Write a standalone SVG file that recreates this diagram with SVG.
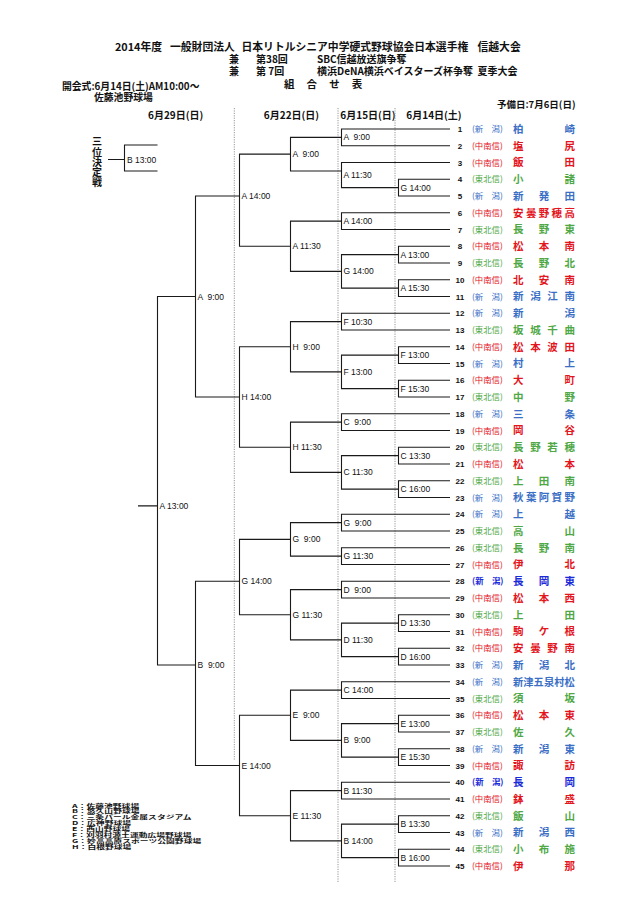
<svg xmlns="http://www.w3.org/2000/svg" width="640" height="904" viewBox="0 0 640 904">
<style>
.ln{fill:none;stroke:#1a1a1a;stroke-width:1.1}
.dash{fill:none;stroke:#8a8a8a;stroke-width:0.9;stroke-dasharray:1.2 1.2}
.ml{font-family:"Liberation Sans",Arial,sans-serif;font-size:8.5px;fill:#111}
.num{font-family:"Liberation Sans",Arial,sans-serif;font-weight:bold;font-size:8px;text-anchor:middle;fill:#111}
.reg{font-family:"Noto Sans CJK JP",sans-serif;font-size:8.4px}
.nm{font-family:"Noto Sans CJK JP",sans-serif;font-size:10.5px;font-weight:bold}
.nm6{font-size:10.2px}
.jp{font-family:"Noto Sans CJK JP",sans-serif;font-weight:bold;fill:#111}
.vt{writing-mode:vertical-rl;letter-spacing:0.3px}
.b{fill:#3b6fc6}.r{fill:#e3151d}.g{fill:#4fa845}.bd{fill:#1b2bd8}
</style>

<g id="header">
<text class="jp" y="51" font-size="10.8"><tspan x="115">2014年度 </tspan><tspan x="170">一般財団法人 </tspan><tspan x="241.5">日本リトルシニア中学硬式野球協会日本選手権 </tspan><tspan x="477.5">信越大会</tspan></text>
<text class="jp" y="63" font-size="10"><tspan x="229">兼 </tspan><tspan x="256">第38回 </tspan><tspan x="317">SBC信越放送旗争奪</tspan></text>
<text class="jp" y="75" font-size="10"><tspan x="229">兼 </tspan><tspan x="256">第 7回 </tspan><tspan x="317">横浜DeNA横浜ベイスターズ杯争奪 </tspan><tspan x="477.5">夏季大会</tspan></text>
<text class="jp" x="284" y="88" font-size="10.5" letter-spacing="0.8">組　合　せ　表</text>
<text class="jp" x="62" y="89.5" font-size="9.8">開会式:6月14日(土)AM10:00～</text>
<text class="jp" x="94" y="100.5" font-size="9.8">佐藤池野球場</text>
<text class="jp" x="497" y="107.5" font-size="9.5">予備日:7月6日(日)</text>
<g class="jp" font-size="10" text-anchor="middle">
<text x="175.7" y="118.5">6月29日(日)</text>
<text x="291.5" y="118.5">6月22日(日)</text>
<text x="368" y="118.5">6月15日(日)</text>
<text x="434" y="118.5">6月14日(土)</text>
</g>
</g>

<g id="grid">
<path class="dash" d="M234.3 108V760M338 108V882M395 108V882"/>
</g>

<g id="connectors">
<path class="ln" d="M450 179.25H398.5V196H450M450 246.25H398.5V263H450M450 279.75H398.5V296.5H450M450 346.75H398.5V363.5H450M450 380.25H398.5V397H450M450 447.25H398.5V464H450M450 480.75H398.5V497.5H450M450 614.75H398.5V631.5H450M450 648.25H398.5V665H450M450 715.25H398.5V732H450M450 748.75H398.5V765.5H450M450 815.75H398.5V832.5H450M450 849.25H398.5V866H450"/>
<path class="ln" d="M450 129H341.5V145.75H450M450 162.5H341.5V187.625H398.5M450 212.75H341.5V229.5H450M398.5 254.625H341.5V288.125H398.5M450 313.25H341.5V330H450M398.5 355.125H341.5V388.625H398.5M450 413.75H341.5V430.5H450M398.5 455.625H341.5V489.125H398.5M450 514.25H341.5V531H450M450 547.75H341.5V564.5H450M450 581.25H341.5V598H450M398.5 623.125H341.5V656.625H398.5M450 681.75H341.5V698.5H450M398.5 723.625H341.5V757.125H398.5M450 782.25H341.5V799H450M398.5 824.125H341.5V857.625H398.5"/>
<path class="ln" d="M341.5 137.375H290.5V171H341.5M341.5 221.125H290.5V271.375H341.5M341.5 321.625H290.5V371.875H341.5M341.5 422.125H290.5V472.375H341.5M341.5 522.625H290.5V556.125H341.5M341.5 589.625H290.5V639.875H341.5M341.5 690.125H290.5V740.375H341.5M341.5 790.625H290.5V840.875H341.5"/>
<path class="ln" d="M290.5 154.125H239.5V246.25H290.5M290.5 346.75H239.5V447.25H290.5M290.5 539.375H239.5V614.75H290.5M290.5 715.25H239.5V815.75H290.5"/>
<path class="ln" d="M239.5 196H195.5V397H239.5M239.5 581.25H195.5V765.5H239.5"/>
<path class="ln" d="M195.5 296.5H157.5V665H195.5M138 505.875H157.5"/>
<path class="ln" d="M157.5 145H124.5V171H157.5M108 159.5H124.5"/>
</g>

<g id="third-place">
<text class="jp vt" font-size="10" x="97" y="136.5">三位決定戦</text>
<text class="ml" x="127" y="162.5">B 13:00</text>
</g>

<g id="matches-r1" class="ml">
<g id="r1-g1400"><text x="400.5" y="190.6">G 14:00</text></g>
<g id="r1-a1300"><text x="400.5" y="257.6">A 13:00</text></g>
<g id="r1-a1530"><text x="400.5" y="291.1">A 15:30</text></g>
<g id="r1-f1300"><text x="400.5" y="358.1">F 13:00</text></g>
<g id="r1-f1530"><text x="400.5" y="391.6">F 15:30</text></g>
<g id="r1-c1330"><text x="400.5" y="458.6">C 13:30</text></g>
<g id="r1-c1600"><text x="400.5" y="492.1">C 16:00</text></g>
<g id="r1-d1330"><text x="400.5" y="626.1">D 13:30</text></g>
<g id="r1-d1600"><text x="400.5" y="659.6">D 16:00</text></g>
<g id="r1-e1300"><text x="400.5" y="726.6">E 13:00</text></g>
<g id="r1-e1530"><text x="400.5" y="760.1">E 15:30</text></g>
<g id="r1-b1330"><text x="400.5" y="827.1">B 13:30</text></g>
<g id="r1-b1600"><text x="400.5" y="860.6">B 16:00</text></g>
</g>

<g id="matches-r2" class="ml">
<g id="r2-a900"><text xml:space="preserve" x="343.5" y="140.4">A  9:00</text></g>
<g id="r2-a1130"><text x="343.5" y="178">A 11:30</text></g>
<g id="r2-a1400"><text x="343.5" y="224.1">A 14:00</text></g>
<g id="r2-g1400"><text x="343.5" y="274.4">G 14:00</text></g>
<g id="r2-f1030"><text x="343.5" y="324.6">F 10:30</text></g>
<g id="r2-f1300"><text x="343.5" y="374.9">F 13:00</text></g>
<g id="r2-c900"><text xml:space="preserve" x="343.5" y="425.1">C  9:00</text></g>
<g id="r2-c1130"><text x="343.5" y="475.4">C 11:30</text></g>
<g id="r2-g900"><text xml:space="preserve" x="343.5" y="525.6">G  9:00</text></g>
<g id="r2-g1130"><text x="343.5" y="559.1">G 11:30</text></g>
<g id="r2-d900"><text xml:space="preserve" x="343.5" y="592.6">D  9:00</text></g>
<g id="r2-d1130"><text x="343.5" y="642.9">D 11:30</text></g>
<g id="r2-c1400"><text x="343.5" y="693.1">C 14:00</text></g>
<g id="r2-b900"><text xml:space="preserve" x="343.5" y="743.4">B  9:00</text></g>
<g id="r2-b1130"><text x="343.5" y="793.6">B 11:30</text></g>
<g id="r2-b1400"><text x="343.5" y="843.9">B 14:00</text></g>
</g>

<g id="matches-r3" class="ml">
<g id="r3-a900"><text xml:space="preserve" x="292.5" y="157.1">A  9:00</text></g>
<g id="r3-a1130"><text x="292.5" y="249.2">A 11:30</text></g>
<g id="r3-h900"><text xml:space="preserve" x="292.5" y="349.7">H  9:00</text></g>
<g id="r3-h1130"><text x="292.5" y="450.2">H 11:30</text></g>
<g id="r3-g900"><text xml:space="preserve" x="292.5" y="542.4">G  9:00</text></g>
<g id="r3-g1130"><text x="292.5" y="617.7">G 11:30</text></g>
<g id="r3-e900"><text xml:space="preserve" x="292.5" y="718.2">E  9:00</text></g>
<g id="r3-e1130"><text x="292.5" y="818.7">E 11:30</text></g>
</g>

<g id="matches-qf" class="ml">
<g id="qf-a1400"><text x="241.5" y="199">A 14:00</text></g>
<g id="qf-h1400"><text x="241.5" y="400">H 14:00</text></g>
<g id="qf-g1400"><text x="241.5" y="584.2">G 14:00</text></g>
<g id="qf-e1400"><text x="241.5" y="768.5">E 14:00</text></g>
</g>

<g id="matches-sf" class="ml">
<g id="sf-a900"><text xml:space="preserve" x="197.5" y="299.5">A  9:00</text></g>
<g id="sf-b900"><text xml:space="preserve" x="197.5" y="668">B  9:00</text></g>
</g>
<g id="final" class="ml"><text x="159.5" y="508.9">A 13:00</text></g>

<g id="teams">
<g id="team-1"><text class="num" x="460" y="132">1</text><text class="reg b" x="472" y="132">(新　潟)</text><text class="nm b" x="513 564.5" y="132.8">柏崎</text></g>
<g id="team-2"><text class="num" x="460" y="148.75">2</text><text class="reg r" x="472" y="148.75">(中南信)</text><text class="nm r" x="513 564.5" y="149.55">塩尻</text></g>
<g id="team-3"><text class="num" x="460" y="165.5">3</text><text class="reg r" x="472" y="165.5">(中南信)</text><text class="nm r" x="513 564.5" y="166.3">飯田</text></g>
<g id="team-4"><text class="num" x="460" y="182.25">4</text><text class="reg g" x="472" y="182.25">(東北信)</text><text class="nm g" x="513 564.5" y="183.05">小諸</text></g>
<g id="team-5"><text class="num" x="460" y="199">5</text><text class="reg b" x="472" y="199">(新　潟)</text><text class="nm b" x="513 538.8 564.5" y="199.8">新発田</text></g>
<g id="team-6"><text class="num" x="460" y="215.75">6</text><text class="reg r" x="472" y="215.75">(中南信)</text><text class="nm r" x="513 525.9 538.8 551.6 564.5" y="216.55">安曇野穂高</text></g>
<g id="team-7"><text class="num" x="460" y="232.5">7</text><text class="reg g" x="472" y="232.5">(東北信)</text><text class="nm g" x="513 538.8 564.5" y="233.3">長野東</text></g>
<g id="team-8"><text class="num" x="460" y="249.25">8</text><text class="reg r" x="472" y="249.25">(中南信)</text><text class="nm r" x="513 538.8 564.5" y="250.05">松本南</text></g>
<g id="team-9"><text class="num" x="460" y="266">9</text><text class="reg g" x="472" y="266">(東北信)</text><text class="nm g" x="513 538.8 564.5" y="266.8">長野北</text></g>
<g id="team-10"><text class="num" x="460" y="282.75">10</text><text class="reg r" x="472" y="282.75">(中南信)</text><text class="nm r" x="513 538.8 564.5" y="283.55">北安南</text></g>
<g id="team-11"><text class="num" x="460" y="299.5">11</text><text class="reg b" x="472" y="299.5">(新　潟)</text><text class="nm b" x="513 530.2 547.3 564.5" y="300.3">新潟江南</text></g>
<g id="team-12"><text class="num" x="460" y="316.25">12</text><text class="reg b" x="472" y="316.25">(新　潟)</text><text class="nm b" x="513 564.5" y="317.05">新潟</text></g>
<g id="team-13"><text class="num" x="460" y="333">13</text><text class="reg g" x="472" y="333">(東北信)</text><text class="nm g" x="513 530.2 547.3 564.5" y="333.8">坂城千曲</text></g>
<g id="team-14"><text class="num" x="460" y="349.75">14</text><text class="reg r" x="472" y="349.75">(中南信)</text><text class="nm r" x="513 530.2 547.3 564.5" y="350.55">松本波田</text></g>
<g id="team-15"><text class="num" x="460" y="366.5">15</text><text class="reg b" x="472" y="366.5">(新　潟)</text><text class="nm b" x="513 564.5" y="367.3">村上</text></g>
<g id="team-16"><text class="num" x="460" y="383.25">16</text><text class="reg r" x="472" y="383.25">(中南信)</text><text class="nm r" x="513 564.5" y="384.05">大町</text></g>
<g id="team-17"><text class="num" x="460" y="400">17</text><text class="reg g" x="472" y="400">(東北信)</text><text class="nm g" x="513 564.5" y="400.8">中野</text></g>
<g id="team-18"><text class="num" x="460" y="416.75">18</text><text class="reg b" x="472" y="416.75">(新　潟)</text><text class="nm b" x="513 564.5" y="417.55">三条</text></g>
<g id="team-19"><text class="num" x="460" y="433.5">19</text><text class="reg r" x="472" y="433.5">(中南信)</text><text class="nm r" x="513 564.5" y="434.3">岡谷</text></g>
<g id="team-20"><text class="num" x="460" y="450.25">20</text><text class="reg g" x="472" y="450.25">(東北信)</text><text class="nm g" x="513 530.2 547.3 564.5" y="451.05">長野若穂</text></g>
<g id="team-21"><text class="num" x="460" y="467">21</text><text class="reg r" x="472" y="467">(中南信)</text><text class="nm r" x="513 564.5" y="467.8">松本</text></g>
<g id="team-22"><text class="num" x="460" y="483.75">22</text><text class="reg g" x="472" y="483.75">(東北信)</text><text class="nm g" x="513 538.8 564.5" y="484.55">上田南</text></g>
<g id="team-23"><text class="num" x="460" y="500.5">23</text><text class="reg b" x="472" y="500.5">(新　潟)</text><text class="nm b" x="513 525.9 538.8 551.6 564.5" y="501.3">秋葉阿賀野</text></g>
<g id="team-24"><text class="num" x="460" y="517.25">24</text><text class="reg b" x="472" y="517.25">(新　潟)</text><text class="nm b" x="513 564.5" y="518.05">上越</text></g>
<g id="team-25"><text class="num" x="460" y="534">25</text><text class="reg g" x="472" y="534">(東北信)</text><text class="nm g" x="513 564.5" y="534.8">高山</text></g>
<g id="team-26"><text class="num" x="460" y="550.75">26</text><text class="reg g" x="472" y="550.75">(東北信)</text><text class="nm g" x="513 538.8 564.5" y="551.55">長野南</text></g>
<g id="team-27"><text class="num" x="460" y="567.5">27</text><text class="reg r" x="472" y="567.5">(中南信)</text><text class="nm r" x="513 564.5" y="568.3">伊北</text></g>
<g id="team-28"><text class="num" x="460" y="584.25">28</text><text class="reg bd" x="472" y="584.25" font-weight="bold">(新　潟)</text><text class="nm bd" x="513 538.8 564.5" y="585.05">長岡東</text></g>
<g id="team-29"><text class="num" x="460" y="601">29</text><text class="reg r" x="472" y="601">(中南信)</text><text class="nm r" x="513 538.8 564.5" y="601.8">松本西</text></g>
<g id="team-30"><text class="num" x="460" y="617.75">30</text><text class="reg g" x="472" y="617.75">(東北信)</text><text class="nm g" x="513 564.5" y="618.55">上田</text></g>
<g id="team-31"><text class="num" x="460" y="634.5">31</text><text class="reg r" x="472" y="634.5">(中南信)</text><text class="nm r" x="513 538.8 564.5" y="635.3">駒ケ根</text></g>
<g id="team-32"><text class="num" x="460" y="651.25">32</text><text class="reg r" x="472" y="651.25">(中南信)</text><text class="nm r" x="513 530.2 547.3 564.5" y="652.05">安曇野南</text></g>
<g id="team-33"><text class="num" x="460" y="668">33</text><text class="reg b" x="472" y="668">(新　潟)</text><text class="nm b" x="513 538.8 564.5" y="668.8">新潟北</text></g>
<g id="team-34"><text class="num" x="460" y="684.75">34</text><text class="reg b" x="472" y="684.75">(新　潟)</text><text class="nm nm6 b" x="513 523.3 533.6 543.9 554.2 564.5" y="685.55">新津五泉村松</text></g>
<g id="team-35"><text class="num" x="460" y="701.5">35</text><text class="reg g" x="472" y="701.5">(東北信)</text><text class="nm g" x="513 564.5" y="702.3">須坂</text></g>
<g id="team-36"><text class="num" x="460" y="718.25">36</text><text class="reg r" x="472" y="718.25">(中南信)</text><text class="nm r" x="513 538.8 564.5" y="719.05">松本東</text></g>
<g id="team-37"><text class="num" x="460" y="735">37</text><text class="reg g" x="472" y="735">(東北信)</text><text class="nm g" x="513 564.5" y="735.8">佐久</text></g>
<g id="team-38"><text class="num" x="460" y="751.75">38</text><text class="reg b" x="472" y="751.75">(新　潟)</text><text class="nm b" x="513 538.8 564.5" y="752.55">新潟東</text></g>
<g id="team-39"><text class="num" x="460" y="768.5">39</text><text class="reg r" x="472" y="768.5">(中南信)</text><text class="nm r" x="513 564.5" y="769.3">諏訪</text></g>
<g id="team-40"><text class="num" x="460" y="785.25">40</text><text class="reg bd" x="472" y="785.25" font-weight="bold">(新　潟)</text><text class="nm bd" x="513 564.5" y="786.05">長岡</text></g>
<g id="team-41"><text class="num" x="460" y="802">41</text><text class="reg r" x="472" y="802">(中南信)</text><text class="nm r" x="513 564.5" y="802.8">鉢盛</text></g>
<g id="team-42"><text class="num" x="460" y="818.75">42</text><text class="reg g" x="472" y="818.75">(東北信)</text><text class="nm g" x="513 564.5" y="819.55">飯山</text></g>
<g id="team-43"><text class="num" x="460" y="835.5">43</text><text class="reg b" x="472" y="835.5">(新　潟)</text><text class="nm b" x="513 538.8 564.5" y="836.3">新潟西</text></g>
<g id="team-44"><text class="num" x="460" y="852.25">44</text><text class="reg g" x="472" y="852.25">(東北信)</text><text class="nm g" x="513 538.8 564.5" y="853.05">小布施</text></g>
<g id="team-45"><text class="num" x="460" y="869">45</text><text class="reg r" x="472" y="869">(中南信)</text><text class="nm r" x="513 564.5" y="869.8">伊那</text></g>
</g>

<g id="legend" class="jp" font-size="8.8">
<text transform="translate(72 807.5) scale(1 0.6)">A：佐藤池野球場</text>
<text transform="translate(72 813.4) scale(1 0.6)">B：悠久山野球場</text>
<text transform="translate(72 819.3) scale(1 0.6)">C：三条パール金属スタジアム</text>
<text transform="translate(72 825.2) scale(1 0.6)">D：広神野球場</text>
<text transform="translate(72 831.1) scale(1 0.6)">E：西山野球場</text>
<text transform="translate(72 837) scale(1 0.6)">F：刈羽村源土運動広場野球場</text>
<text transform="translate(72 842.9) scale(1 0.6)">G：妙高高原スポーツ公園野球場</text>
<text transform="translate(72 848.8) scale(1 0.6)">H：白根野球場</text>
</g>
</svg>
